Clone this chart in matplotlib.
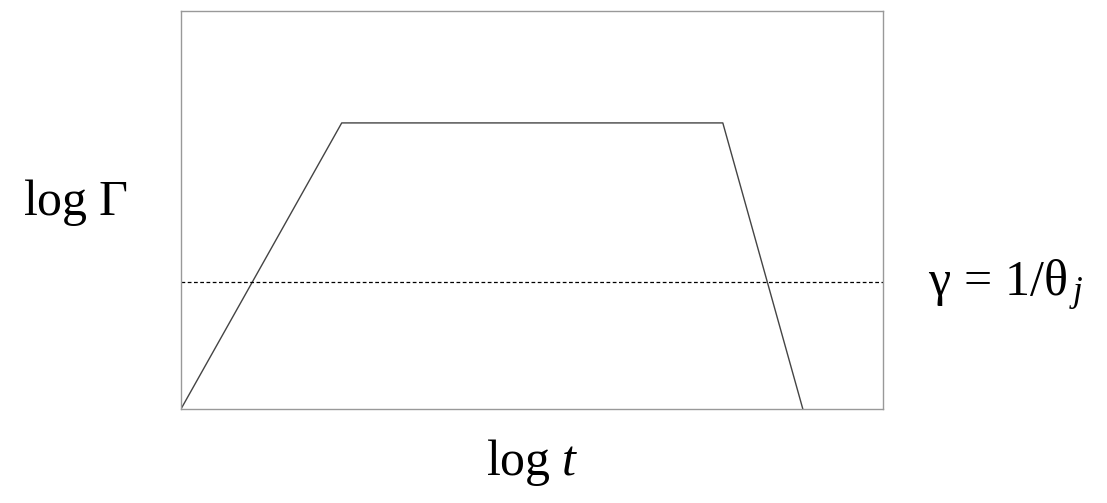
import matplotlib
matplotlib.use('Agg')
import matplotlib.pyplot as plt

# Fonts: Times-like for math labels
plt.rcParams['mathtext.fontset'] = 'custom'
plt.rcParams['mathtext.rm'] = 'Liberation Serif'
plt.rcParams['mathtext.it'] = 'Liberation Serif:italic'
plt.rcParams['font.family'] = ['Liberation Serif', 'DejaVu Serif']

# Schematic Lorentz factor curve (log t, log Gamma), arbitrary units
log_t = [0.0, 0.229, 0.772, 0.886]
log_gamma = [0.0, 0.719, 0.719, 0.0]
gamma_jet = 0.319

fig = plt.figure(figsize=(11.07, 5.03), dpi=100)
axe = fig.add_axes([0.1635, 0.1869, 0.634, 0.791])

axe.plot(log_t, log_gamma, color='#444444', lw=1.0)
axe.axhline(gamma_jet, color='black', lw=0.9, linestyle=(0, (3, 2)))

axe.set_xlim(0, 1)
axe.set_ylim(0, 1)
axe.set_xticks([])
axe.set_yticks([])
for sp in axe.spines.values():
    sp.set_color('#999999')
    sp.set_linewidth(1.0)

# Labels
fig.text(0.068, 0.597, r'$\log\,\Gamma$', fontsize=36, ha='center', va='center')
fig.text(0.481, 0.081, r'$\log\,t$', fontsize=36, ha='center', va='center')
fig.text(0.908, 0.433, r'$\mathrm{\gamma}\,=\,1/\mathrm{\theta}_{\,j}$', fontsize=36,
         ha='center', va='center')

fig.savefig('out.png', dpi=100)
